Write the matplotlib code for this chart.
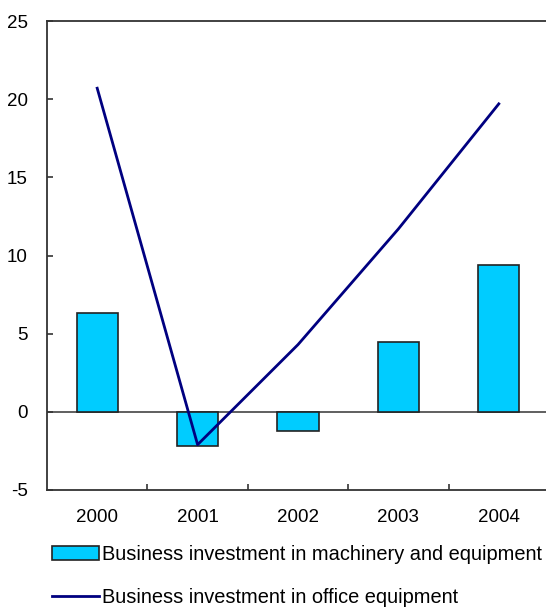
import matplotlib.pyplot as plt
import numpy as np

years = ["2000", "2001", "2002", "2003", "2004"]
machinery = [6.3, -2.2, -1.25, 4.45, 9.4]
office = [20.7, -2.1, 4.3, 11.7, 19.7]

plt.rcParams["font.family"] = ["Liberation Sans", "DejaVu Sans"]
plt.rcParams["axes.unicode_minus"] = False
fs = 13.5

fig = plt.figure(figsize=(5.46, 6.08), dpi=100)
ax = fig.add_axes([47 / 546, 1 - 490 / 608, 502 / 546, 469 / 608])

x = np.arange(len(years))
bars = ax.bar(x, machinery, width=0.41, color="#00CCFF", edgecolor="#222222",
              linewidth=1.2, zorder=2,
              label="Business investment in machinery and equipment")
line, = ax.plot(x, office, color="#000080", linewidth=2, zorder=3,
                label="Business investment in office equipment")
ax.axhline(0, color="#444444", linewidth=1.2, zorder=1)

ax.set_xlim(-0.5, 4.5)
ax.set_ylim(-5, 25)
ax.set_yticks(range(-5, 30, 5))
ax.set_xticks(x)
ax.set_xticklabels(years)
ax.set_xticks(x[:-1] + 0.5, minor=True)
ax.tick_params(axis="x", which="major", length=0, pad=14, labelsize=fs)
ax.tick_params(axis="x", which="minor", direction="in", length=4, width=1.2, color="#333333")
ax.tick_params(axis="y", direction="in", length=4, width=1.2, color="#333333",
               pad=14, labelsize=fs)

for s in ["left", "top", "bottom"]:
    ax.spines[s].set_color("#333333")
    ax.spines[s].set_linewidth(1.3)
ax.spines["right"].set_visible(False)

fig.legend(handles=[bars, line], loc="upper left", bbox_to_anchor=(44 / 546, 1 - 537 / 608),
           frameon=False, fontsize=14.4, handlelength=2.35, handleheight=0.75,
           handletextpad=0.15, labelspacing=1.2, borderaxespad=0)

fig.savefig("out.png", dpi=100)
